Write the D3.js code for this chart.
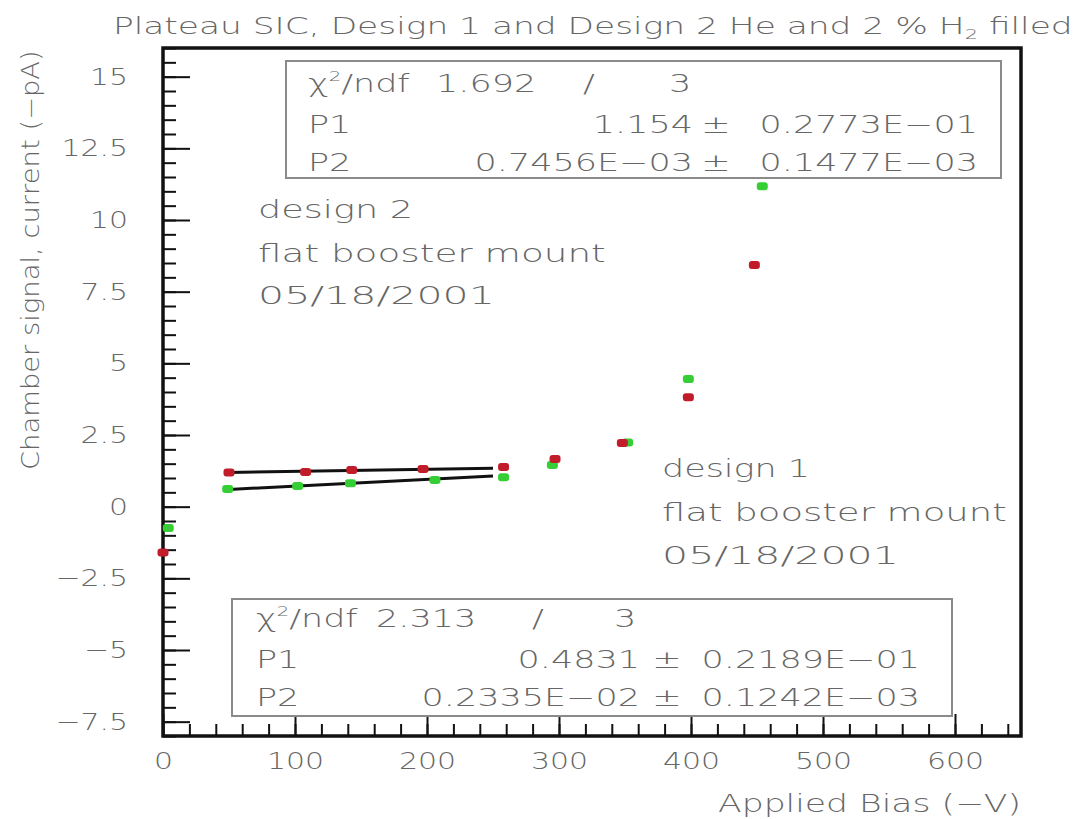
<!DOCTYPE html>
<html>
<head>
<meta charset="utf-8">
<script src="https://cdn.jsdelivr.net/npm/d3@7"></script>
<style>
  html, body { margin: 0; padding: 0; background: #fff; }
  text { font-family: "DejaVu Sans", sans-serif; font-weight: 200; fill: #666; }
</style>
</head>
<body>
<svg id="chart" width="1078" height="819"></svg>
<script>
// Plateau scan: chamber current (−pA) against applied bias (−V)
// Design 2 (red) and design 1 (green), both flat booster mount, 05/18/2001
const biasDesign2    = [0, 50, 108, 143, 197, 258, 297, 348, 398, 448];
const currentDesign2 = [-1.6, 1.19, 1.21, 1.28, 1.31, 1.38, 1.66, 2.22, 3.82, 8.43];
const biasDesign1    = [4, 49, 102, 142, 206, 258, 295, 352, 398, 454];
const currentDesign1 = [-0.74, 0.62, 0.72, 0.82, 0.93, 1.03, 1.45, 2.24, 4.45, 11.18];

// Linear fits P1 + P2·V over the low-bias plateau
const fitDesign2 = [1.154, 0.7456e-3];
const fitDesign1 = [0.4831, 0.2335e-2];
const fitRange   = [50, 250];

// Fit statistics as printed: chi2, ndf, P1, err P1, P2, err P2
const statsDesign2 = ["1.692", "3", "1.154", "0.2773E−01", "0.7456E−03", "0.1477E−03"];
const statsDesign1 = ["2.313", "3", "0.4831", "0.2189E−01", "0.2335E−02", "0.1242E−03"];

const xRange = [0, 650];
const yRange = [-8, 16];
const xTicks = [0, 100, 200, 300, 400, 500, 600];
const yTicks = [-7.5, -5, -2.5, 0, 2.5, 5, 7.5, 10, 12.5, 15];
const xMinorStep = 20;
const yMinorStep = 0.5;

const X0 = 163, X1 = 1021, Y0 = 48, Y1 = 736;
const RED = "#c01c2a", GREEN = "#35cf35";

const svg = d3.select("#chart");
const x = d3.scaleLinear().domain(xRange).range([X0, X1]);
const y = d3.scaleLinear().domain(yRange).range([Y1, Y0]);

// text placed at an anchor point and stretched horizontally
function put(g, px, py, anchor, size, sx) {
  return g.append("text")
    .attr("transform", `translate(${px},${py}) scale(${sx},1)`)
    .attr("text-anchor", anchor)
    .style("font-size", size + "px");
}
function fitWidth(t, width) {
  const w = t.node().getComputedTextLength();
  const [px, py] = t.attr("transform").match(/translate\(([^)]*)\)/)[1].split(",").map(Number);
  t.attr("transform", `translate(${px},${py}) scale(${width / w},1)`);
  return t;
}

// title
const title = put(svg, 113, 34, "start", 23, 1);
title.append("tspan").text("Plateau SIC, Design 1 and Design 2 He and 2 %  H");
title.append("tspan").attr("dy", 5).style("font-size", "14px").text("2");
title.append("tspan").attr("dy", -5).text(" filled");
fitWidth(title, 960);

// axis ticks (inside the frame)
const TICK_SX = 1.3;
const yMinor = d3.range(Math.round(yRange[0] / yMinorStep), Math.round(yRange[1] / yMinorStep) + 1).map(i => i * yMinorStep);
const xMinor = d3.range(0, xRange[1] + 1, xMinorStep);

svg.append("g").attr("transform", `translate(${X0},0)`)
  .call(d3.axisLeft(y).tickValues(yMinor).tickSize(-13).tickFormat(""))
  .call(g => g.select(".domain").remove());
const yAxis = svg.append("g").attr("transform", `translate(${X0},0)`)
  .call(d3.axisLeft(y).tickValues(yTicks).tickSize(-27).tickPadding(35).tickFormat(d3.format("")))
  .call(g => g.select(".domain").remove());
yAxis.selectAll("text")
  .attr("x", 0).attr("fill", null)
  .attr("transform", `translate(-35,0) scale(${TICK_SX},1)`)
  .style("font-size", "23px").style("font-family", null);

svg.append("g").attr("transform", `translate(0,${Y1})`)
  .call(d3.axisBottom(x).tickValues(xMinor).tickSize(-12).tickFormat(""))
  .call(g => g.select(".domain").remove());
const xAxis = svg.append("g").attr("transform", `translate(0,${Y1})`)
  .call(d3.axisBottom(x).tickValues(xTicks).tickSize(-22).tickPadding(17).tickFormat(d3.format("")))
  .call(g => g.select(".domain").remove());
xAxis.selectAll("text")
  .attr("fill", null)
  .attr("transform", `scale(${TICK_SX},1)`)
  .style("font-size", "23px").style("font-family", null);
svg.selectAll(".tick line").attr("stroke", "#111").attr("stroke-width", 2);

// axis titles
const yTitle = svg.append("text")
  .attr("transform", "translate(39,470) rotate(-90)")
  .attr("text-anchor", "start").style("font-size", "24px")
  .text("Chamber signal, current (−pA)");
{
  const w = yTitle.node().getComputedTextLength();
  yTitle.attr("transform", `translate(39,470) rotate(-90) scale(${420 / w},1)`);
}
fitWidth(put(svg, 1021, 812, "end", 24, 1).text("Applied Bias (−V)"), 303);

// fit statistics boxes
const BOX_SX = 1.4;
function statBox(stats, bx0, by0, bx1, by1, cols, rows) {
  const g = svg.append("g");
  g.append("rect").attr("x", bx0).attr("y", by0).attr("width", bx1 - bx0).attr("height", by1 - by0)
    .attr("fill", "#fff").attr("stroke", "#8a8a8a").attr("stroke-width", 2);
  const chi = put(g, cols[0], rows[0], "start", 25, BOX_SX);
  chi.append("tspan").text("χ");
  chi.append("tspan").attr("dy", -11).style("font-size", "14px").text("2");
  chi.append("tspan").attr("dy", 11).text("/ndf");
  put(g, cols[1], rows[0], "start", 25, BOX_SX).text(stats[0]);
  put(g, cols[2], rows[0], "middle", 25, BOX_SX).text("/");
  put(g, cols[3], rows[0], "start", 25, BOX_SX).text(stats[1]);
  [["P1", stats[2], stats[3]], ["P2", stats[4], stats[5]]].forEach((r, i) => {
    const ry = rows[i + 1];
    put(g, cols[0], ry, "start", 25, BOX_SX).text(r[0]);
    put(g, cols[4], ry, "end", 25, BOX_SX).text(r[1]);
    put(g, cols[5], ry, "middle", 25, BOX_SX).text("±");
    put(g, cols[6], ry, "end", 25, BOX_SX).text(r[2]);
  });
}
statBox(statsDesign2, 286, 61, 1001, 178, [308, 436, 589, 669, 693, 716, 978], [92, 133, 171]);
statBox(statsDesign1, 232, 599, 952, 716, [256, 376, 538, 614, 640, 667, 920], [627, 668, 706]);

// run annotations
const notes = svg.append("g");
fitWidth(put(notes, 258, 218, "start", 25, 1).text("design 2"), 155);
fitWidth(put(notes, 258, 262, "start", 25, 1).text("flat booster mount"), 348);
fitWidth(put(notes, 258, 304, "start", 25, 1).text("05/18/2001"), 237);
fitWidth(put(notes, 662, 477, "start", 25, 1).text("design 1"), 148);
fitWidth(put(notes, 662, 521, "start", 25, 1).text("flat booster mount"), 345);
fitWidth(put(notes, 662, 564, "start", 25, 1).text("05/18/2001"), 237);

// frame
svg.append("rect").attr("x", X0).attr("y", Y0).attr("width", X1 - X0).attr("height", Y1 - Y0)
  .attr("fill", "none").attr("stroke", "#111").attr("stroke-width", 3.5);

// fitted lines
const line = d3.line().x(d => x(d[0])).y(d => y(d[1]));
[fitDesign2, fitDesign1].forEach(p => {
  svg.append("path")
    .datum(fitRange.map(v => [v, p[0] + p[1] * v]))
    .attr("d", line).attr("fill", "none").attr("stroke", "#111").attr("stroke-width", 3);
});

// data markers
function markers(bias, current, color) {
  svg.append("g").selectAll("rect")
    .data(d3.zip(bias, current))
    .join("rect")
    .attr("x", d => x(d[0]) - 5.5).attr("y", d => y(d[1]) - 4)
    .attr("width", 11).attr("height", 8).attr("rx", 3)
    .attr("fill", color);
}
markers(biasDesign1, currentDesign1, GREEN);
markers(biasDesign2, currentDesign2, RED);
</script>
</body>
</html>
